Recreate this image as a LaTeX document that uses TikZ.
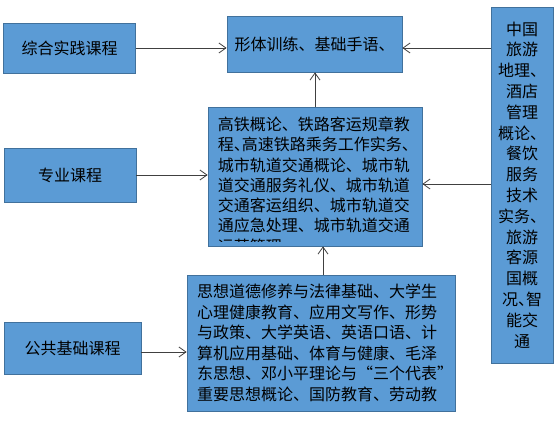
\documentclass[tikz,border=0pt]{standalone}
\usepackage{fontspec}
\newfontfamily\cjk{Noto Sans CJK SC}
\usetikzlibrary{arrows.meta}
\definecolor{boxfill}{HTML}{5B9BD5}
\definecolor{boxline}{HTML}{41719C}
\definecolor{arrline}{HTML}{404040}
\newcommand\dun{\makebox[0.5em][l]{、}}
\newcommand\myoq{\makebox[1em][r]{“}}
\newcommand\mycq{\makebox[1em][l]{”}}
\begin{document}
\begin{tikzpicture}[x=1pt,y=-1pt,
  box/.style={draw=boxline, fill=boxfill, line width=0.8pt, inner sep=0pt, font=\cjk\fontsize{16}{20.5}\selectfont},
  arr/.style={draw=arrline, line width=0.8pt, -{Straight Barb[length=7pt,width=10pt]}}]
\useasboundingbox (0,0) rectangle (559,427);
\node[box, minimum width=132pt, minimum height=50pt] (A) at (69.5,48) {综合实践课程};
\node[box, minimum width=132pt, minimum height=54pt] (P) at (70,175) {专业课程};
\node[box, minimum width=137pt, minimum height=52pt] (G) at (72.5,348) {公共基础课程};
\node[box, minimum width=175pt, minimum height=56pt] (B) at (314.5,44) {形体训练、基础手语、};
\node[box, minimum width=214pt, minimum height=139pt] (M) at (315,176.5) {};
\node[box, minimum width=268pt, minimum height=136pt, inner xsep=10pt, text width=248pt, align=left] (L) at (321,343) {思想道德修养与法律基础、大学生\\心理健康教育、应用文写作、形势\\与政策、大学英语、英语口语、计\\算机应用基础、体育与健康、毛泽\\东思想、邓小平理论与\myoq 三个代表\mycq\\重要思想概论、国防教育、劳动教};
\node[box, minimum width=62pt, minimum height=356pt, align=center, font=\cjk\fontsize{16}{20.8}\selectfont] (R) at (522,185) {中国\\旅游\\地理、\\酒店\\管理\\概论、\\餐饮\\服务\\技术\\实务、\\旅游\\客源\\国概\\况\dun 智\\能交\\通};
\begin{scope}
\clip ([yshift=4.5pt]M.south west) rectangle (M.north east);
\node[anchor=north west, inner sep=0pt, align=left, font=\cjk\fontsize{16}{20.3}\selectfont] (Mt) at ([xshift=10pt,yshift=-10pt]M.north west) {高铁概论、铁路客运规章教\\程\dun 高速铁路乘务工作实务\dun\\城市轨道交通概论、城市轨\\道交通服务礼仪、城市轨道\\交通客运组织、城市轨道交\\通应急处理、城市轨道交通\\运营管理};
\end{scope}
\draw[arr] (A.east) -- (A.east -| B.west);
\draw[arr] (R.west |- A.east) -- (B.east |- A.east);
\draw[arr] (P.east) -- (P.east -| M.west);
\draw[arr] (R.west |- 0,184) -- (M.east |- 0,184);
\draw[arr] (M.north) -- (M.north |- B.south);
\draw[arr] ([xshift=2pt]L.north) -- ([xshift=2pt]L.north |- M.south);
\draw[arr] ([yshift=-4pt]G.east) -- ([yshift=-4pt]G.east -| L.west);
\end{tikzpicture}
\end{document}
